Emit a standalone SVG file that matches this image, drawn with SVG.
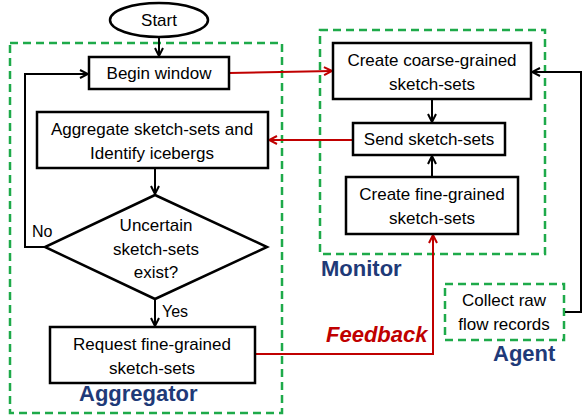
<svg xmlns="http://www.w3.org/2000/svg" width="583" height="420" viewBox="0 0 583 420">
<defs>
<marker id="ab" markerWidth="10" markerHeight="10" refX="9" refY="5" orient="auto" markerUnits="userSpaceOnUse"><path d="M1,1 L9,5 L1,9" fill="none" stroke="#000" stroke-width="2"/></marker>
<marker id="ar" markerWidth="10" markerHeight="10" refX="9" refY="5" orient="auto" markerUnits="userSpaceOnUse"><path d="M1,1 L9,5 L1,9" fill="none" stroke="#C00000" stroke-width="2"/></marker>
</defs>
<style>
.box{fill:#fff;stroke:#000;stroke-width:2.5}
.grp{fill:none;stroke:#1EAA4A;stroke-width:2.5;stroke-dasharray:8,5}
.t{font-family:"Liberation Sans",Arial,sans-serif;font-size:17px;fill:#000;text-anchor:middle}
.lbl{font-family:"Liberation Sans",Arial,sans-serif;font-size:22px;font-weight:bold;fill:#1F3A78}
.bk{fill:none;stroke:#000;stroke-width:2}
.rd{fill:none;stroke:#C00000;stroke-width:2}
</style>
<rect width="583" height="420" fill="#fff"/>
<g id="groups">
<rect class="grp" x="10" y="43" width="272" height="370"/>
<rect class="grp" x="320" y="30" width="225" height="224"/>
<rect class="grp" x="445" y="284" width="119" height="56"/>
<text class="lbl" x="79" y="401">Aggregator</text>
<text class="lbl" x="321" y="276">Monitor</text>
<text class="lbl" x="493" y="361">Agent</text>
</g>
<g id="connectors">
<line class="bk" x1="159" y1="37" x2="159" y2="56" marker-end="url(#ab)"/>
<polyline class="bk" points="45,247 25,247 25,74 88,74" marker-end="url(#ab)"/>
<line class="bk" x1="155" y1="168" x2="155" y2="194" marker-end="url(#ab)"/>
<line class="bk" x1="155" y1="299" x2="155" y2="326" marker-end="url(#ab)"/>
<line class="rd" x1="229" y1="73" x2="332" y2="71" marker-end="url(#ar)"/>
<line class="rd" x1="353" y1="140" x2="269" y2="140" marker-end="url(#ar)"/>
<polyline class="rd" points="255,354 433,354 433,235" marker-end="url(#ar)"/>
<line class="bk" x1="432" y1="99" x2="432" y2="122" marker-end="url(#ab)"/>
<line class="bk" x1="432" y1="177" x2="432" y2="156" marker-end="url(#ab)"/>
<polyline class="bk" points="565,312 581,312 581,72 532,72" marker-end="url(#ab)"/>
<text x="32" y="237" font-family="Liberation Sans,Arial,sans-serif" font-size="16" fill="#000">No</text>
<text x="162" y="317" font-family="Liberation Sans,Arial,sans-serif" font-size="16" fill="#000">Yes</text>
<text x="326" y="342" font-family="Liberation Sans,Arial,sans-serif" font-size="22" font-weight="bold" font-style="italic" fill="#C00000">Feedback</text>
</g>
<g id="start">
<ellipse cx="159" cy="20" rx="49" ry="17" class="box"/>
<text class="t" x="159" y="26">Start</text>
</g>
<g id="begin">
<rect class="box" x="89" y="57" width="140" height="32"/>
<text class="t" x="159" y="79">Begin window</text>
</g>
<g id="aggregate">
<rect class="box" x="37" y="112" width="231" height="56"/>
<text class="t" x="152" y="135">Aggregate sketch-sets and</text>
<text class="t" x="152" y="159">Identify icebergs</text>
</g>
<g id="decision">
<polygon class="box" points="155,195 267,247 155,299 45,247"/>
<text class="t" x="156" y="231">Uncertain</text>
<text class="t" x="156" y="255">sketch-sets</text>
<text class="t" x="156" y="278">exist?</text>
</g>
<g id="request">
<rect class="box" x="50" y="327" width="205" height="56"/>
<text class="t" x="152" y="350">Request fine-grained</text>
<text class="t" x="152" y="374">sketch-sets</text>
</g>
<g id="coarse">
<rect class="box" x="333" y="43" width="198" height="56"/>
<text class="t" x="432" y="66">Create coarse-grained</text>
<text class="t" x="432" y="90">sketch-sets</text>
</g>
<g id="send">
<rect class="box" x="353" y="123" width="152" height="32"/>
<text class="t" x="429" y="145">Send sketch-sets</text>
</g>
<g id="fine">
<rect class="box" x="346" y="177" width="172" height="57"/>
<text class="t" x="432" y="200">Create fine-grained</text>
<text class="t" x="432" y="224">sketch-sets</text>
</g>
<g id="collect">
<text class="t" x="504" y="306">Collect raw</text>
<text class="t" x="504" y="330">flow records</text>
</g>
</svg>
